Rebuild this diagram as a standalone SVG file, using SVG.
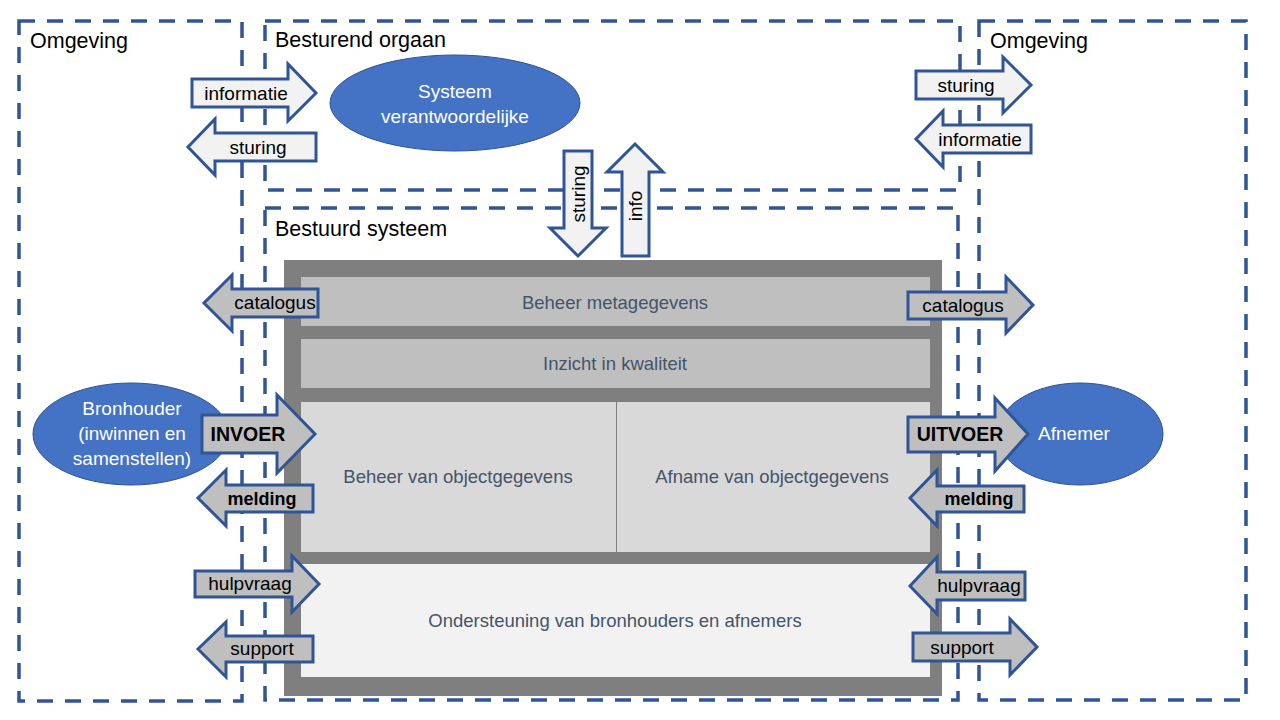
<svg xmlns="http://www.w3.org/2000/svg" width="1280" height="720" viewBox="0 0 1280 720">
<style>
.zone{fill:none;stroke:#2F5597;stroke-width:3.5;stroke-dasharray:16 12}
.title{font-family:"Liberation Sans",Arial,sans-serif;font-size:21.5px;fill:#000}
.ell{fill:#4472C4;stroke:#2F528F;stroke-width:1}
.etxt{font-family:"Liberation Sans",Arial,sans-serif;font-size:19px;fill:#fff;text-anchor:middle}
.btxt{font-family:"Liberation Sans",Arial,sans-serif;font-size:18.5px;fill:#44546A;text-anchor:middle}
.arL{fill:#F2F2F2;stroke:#2F5597;stroke-width:3;stroke-linejoin:miter}
.arG{fill:#BFBFBF;stroke:#2F5597;stroke-width:3;stroke-linejoin:miter}
.atxt{font-family:"Liberation Sans",Arial,sans-serif;font-size:19px;fill:#000;text-anchor:middle}
.abold{font-family:"Liberation Sans",Arial,sans-serif;font-size:18px;font-weight:bold;fill:#000;text-anchor:middle}
</style>
<rect width="1280" height="720" fill="#fff"/>

<g id="zone-omgeving-links">
<rect class="zone" x="19" y="21" width="223" height="680"/>
<text class="title" x="30" y="48">Omgeving</text>
</g>
<g id="zone-besturend-orgaan">
<rect class="zone" x="265" y="21" width="695" height="169"/>
<text class="title" x="275" y="47">Besturend orgaan</text>
</g>
<g id="zone-bestuurd-systeem">
<rect class="zone" x="265" y="208" width="693" height="492"/>
<text class="title" x="275" y="236">Bestuurd systeem</text>
</g>
<g id="zone-omgeving-rechts">
<rect class="zone" x="979" y="21" width="267" height="679"/>
<text class="title" x="990" y="48">Omgeving</text>
</g>

<g id="systeem-kader">
<rect x="284" y="260" width="658" height="436" fill="#7F7F7F"/>
</g>
<g id="beheer-metagegevens">
<rect x="301" y="277" width="629" height="49" fill="#BFBFBF"/>
<text class="btxt" x="615" y="309">Beheer metagegevens</text>
</g>
<g id="inzicht-kwaliteit">
<rect x="301" y="339" width="629" height="49" fill="#BFBFBF"/>
<text class="btxt" x="615" y="370">Inzicht in kwaliteit</text>
</g>
<g id="beheer-objectgegevens">
<rect x="301" y="402" width="315" height="150" fill="#D9D9D9"/>
<text class="btxt" x="458" y="483">Beheer van objectgegevens</text>
</g>
<g id="afname-objectgegevens">
<rect x="616" y="402" width="314" height="150" fill="#D9D9D9"/>
<line x1="616.5" y1="402" x2="616.5" y2="552" stroke="#7F7F7F" stroke-width="1"/>
<text class="btxt" x="772" y="483">Afname van objectgegevens</text>
</g>
<g id="ondersteuning">
<rect x="301" y="564" width="629" height="113" fill="#F2F2F2"/>
<text class="btxt" x="615" y="627">Ondersteuning van bronhouders en afnemers</text>
</g>

<g id="systeem-verantwoordelijke">
<ellipse class="ell" cx="455" cy="103" rx="125" ry="48"/>
<text class="etxt" x="455" y="98">Systeem</text>
<text class="etxt" x="455" y="123">verantwoordelijke</text>
</g>
<g id="bronhouder">
<ellipse class="ell" cx="131" cy="434" rx="98" ry="51"/>
<text class="etxt" x="132" y="415">Bronhouder</text>
<text class="etxt" x="132" y="440">(inwinnen en</text>
<text class="etxt" x="132" y="465">samenstellen)</text>
</g>
<g id="afnemer">
<ellipse class="ell" cx="1080" cy="434" rx="83" ry="51"/>
<text class="etxt" x="1074" y="440">Afnemer</text>
</g>

<g id="connectors">
<g id="arrow-informatie-links">
<polygon class="arL" points="192,79 288,79 288,64 316,93 288,121 288,107 192,107"/>
<text class="atxt" x="246" y="100">informatie</text>
</g>
<g id="arrow-sturing-links">
<polygon class="arL" points="316,133 215,133 215,119 188,147 215,175 215,161 316,161"/>
<text class="atxt" x="258" y="154">sturing</text>
</g>
<g id="arrow-sturing-rechts">
<polygon class="arL" points="916,71 1003,71 1003,57 1031,85 1003,113 1003,99 916,99"/>
<text class="atxt" x="966" y="92">sturing</text>
</g>
<g id="arrow-informatie-rechts">
<polygon class="arL" points="1031,125 943,125 943,111 916,139 943,167 943,153 1031,153"/>
<text class="atxt" x="980" y="146">informatie</text>
</g>
<g id="arrow-sturing-omlaag">
<polygon class="arL" points="564,151 592,151 592,228 606,228 578,256 550,228 564,228"/>
<text class="atxt" transform="translate(585,194) rotate(-90)" x="0" y="0">sturing</text>
</g>
<g id="arrow-info-omhoog">
<polygon class="arL" points="635,144 663,172 649,172 649,256 622,256 622,172 607,172"/>
<text class="atxt" transform="translate(642,206) rotate(-90)" x="0" y="0">info</text>
</g>
<g id="arrow-catalogus-links">
<polygon class="arG" points="318,289 232,289 232,275 204,303 232,331 232,317 318,317"/>
<text class="atxt" x="275" y="309">catalogus</text>
</g>
<g id="arrow-catalogus-rechts">
<polygon class="arG" points="908,292 1006,292 1006,277 1033,305 1006,333 1006,319 908,319"/>
<text class="atxt" x="963" y="312">catalogus</text>
</g>
<g id="arrow-invoer">
<polygon class="arG" points="202,415 277,415 277,395 315,434 277,473 277,453 202,453"/>
<text class="abold" x="248" y="441" style="font-size:19.5px">INVOER</text>
</g>
<g id="arrow-uitvoer">
<polygon class="arG" points="908,417 995,417 995,398 1028,434 995,471 995,452 908,452"/>
<text class="abold" x="960" y="441" style="font-size:19.5px">UITVOER</text>
</g>
<g id="arrow-melding-links">
<polygon class="arG" points="313,485 226,485 226,470 198,498 226,526 226,512 313,512"/>
<text class="abold" x="262" y="505">melding</text>
</g>
<g id="arrow-melding-rechts">
<polygon class="arG" points="1024,486 937,486 937,470 910,498 937,526 937,512 1024,512"/>
<text class="abold" x="979" y="505">melding</text>
</g>
<g id="arrow-hulpvraag-links">
<polygon class="arG" points="195,571 292,571 292,556 319,584 292,612 292,597 195,597"/>
<text class="atxt" x="250" y="590">hulpvraag</text>
</g>
<g id="arrow-support-links">
<polygon class="arG" points="313,636 226,636 226,622 198,649 226,677 226,662 313,662"/>
<text class="atxt" x="262" y="655">support</text>
</g>
<g id="arrow-hulpvraag-rechts">
<polygon class="arG" points="1025,572 937,572 937,557 910,586 937,614 937,600 1025,600"/>
<text class="atxt" x="979" y="592">hulpvraag</text>
</g>
<g id="arrow-support-rechts">
<polygon class="arG" points="913,633 1010,633 1010,619 1037,647 1010,675 1010,661 913,661"/>
<text class="atxt" x="962" y="654">support</text>
</g>
</g>
</svg>
